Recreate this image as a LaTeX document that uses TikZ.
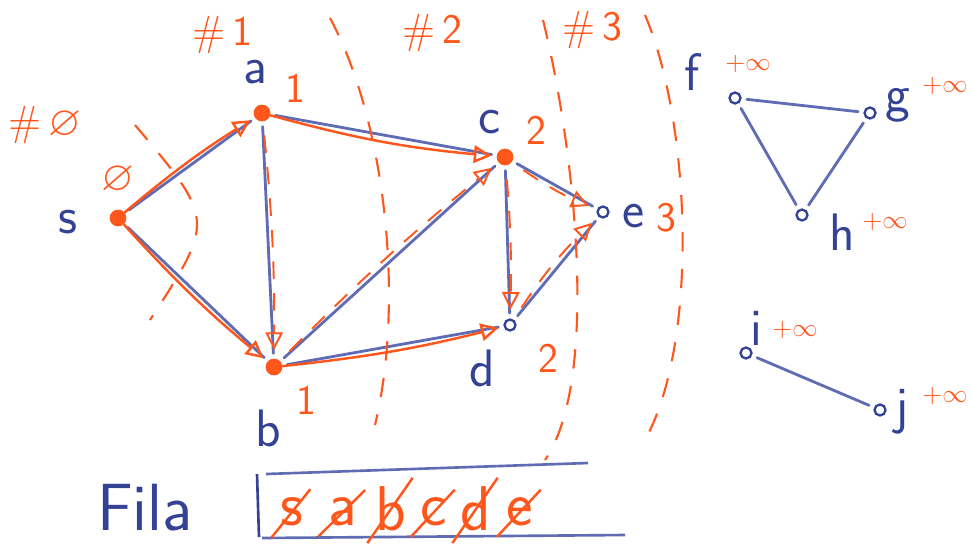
\documentclass[tikz,border=0pt]{standalone}
\usepackage{amssymb}
\usepackage{tikz}
\usetikzlibrary{arrows.meta,positioning,calc}
\definecolor{ink}{RGB}{52,66,150}
\definecolor{inklight}{RGB}{95,108,180}
\definecolor{penorange}{RGB}{255,86,28}

\begin{document}
\begin{tikzpicture}[x=0.02cm,y=-0.02cm,
 vis/.style={circle, fill=penorange, draw=penorange, minimum size=16*0.02cm, inner sep=0},
 unv/.style={circle, draw=ink, line width=1.3pt, minimum size=11*0.02cm, inner sep=0},
 lbl/.style={font=\sffamily\fontsize{30}{30}\selectfont, text=ink, inner sep=1pt},
 lvl/.style={font=\sffamily\fontsize{24}{24}\selectfont, text=penorange, inner sep=1pt},
 inf/.style={font=\sffamily\fontsize{15}{15}\selectfont, text=penorange, inner sep=1pt},
 edge/.style={inklight, line width=1.6pt, line cap=round, shorten <=3pt, shorten >=3pt},
 tree/.style={penorange, line width=1.4pt, -{Triangle[open, length=10pt, width=10pt]}, shorten >=3pt},
 back/.style={penorange, line width=1.1pt, dash pattern=on 10pt off 8pt, -{Triangle[open, length=10pt, width=10pt]}, shorten >=5pt, shorten <=8pt},
 frontier/.style={penorange, line width=1.2pt, dash pattern=on 11pt off 10pt},
 qlet/.style={font=\sffamily\fontsize{36}{36}\selectfont, text=penorange, inner sep=0pt},
 cross/.style={penorange, line width=1.4pt, shorten <=-8pt, shorten >=-6pt},
]
 \useasboundingbox (0,0) rectangle (972,545);
 %
 \node[vis] (s) at (118,218) {};
 \node[vis] (a) at (262,113) {};
 \node[vis] (b) at (274,367) {};
 \node[vis] (c) at (505,157) {};
 \node[unv] (d) at (510,325) {};
 \node[unv] (e) at (603,212) {};
 \node[unv] (f) at (735,98) {};
 \node[unv] (g) at (870,113) {};
 \node[unv] (h) at (802,215) {};
 \node[unv] (i) at (746,353) {};
 \node[unv] (j) at (880,410) {};
 %
 \node[lbl] (sl) at (68,222) {s};
 \node[lbl] (al) at (255,72) {a};
 \node[lbl] (bl) at (268,428) {b};
 \node[lbl] (cl) at (490,122) {c};
 \node[lbl] (dl) at (482,368) {d};
 \node[lbl] (el) at (634,216) {e};
 \node[lbl] (fl) at (692,72) {f};
 \node[lbl] (gl) at (898,105) {g};
 \node[lbl] (hl) at (842,232) {h};
 \node[lbl] (il) at (756,328) {i};
 \node[lbl] (jl) at (902,412) {j};
 %
 \draw[edge] (s) -- (a);
 \draw[edge] (s) -- (b);
 \draw[edge] (a) -- (b);
 \draw[edge] (a) -- (c);
 \draw[edge] (b) -- (c);
 \draw[edge] (b) -- (d);
 \draw[edge] (c) -- (d);
 \draw[edge] (c) -- (e);
 \draw[edge] (d) -- (e);
 \draw[edge] (f) -- (g);
 \draw[edge] (f) -- (h);
 \draw[edge] (g) -- (h);
 \draw[edge] (i) -- (j);
 %
 \draw[tree] (s) to[bend left=4] (a);
 \draw[tree] (s) to[bend right=4] (b);
 \draw[tree] (a) to[bend right=5] (c);
 \draw[tree] (b) to[bend right=4] (d);
 \draw[back] (a) to[bend left=3] (b);
 \draw[back] (b) to[bend left=3] (c);
 \draw[back] (c) to[bend left=3] (d);
 \draw[back] (c) to[bend right=6] (e);
 \draw[back] (d) to[bend left=6] (e);
 %
 \node[lvl] (d0) at (118,180) {$\varnothing$};
 \node[lvl] (da) at (295,88) {1};
 \node[lvl] (db) at (306,400) {1};
 \node[lvl] (dc) at (536,130) {2};
 \node[lvl] (dd) at (548,358) {2};
 \node[lvl] (de) at (666,218) {3};
 \node[inf] (df) at (748,64) {+$\infty$};
 \node[inf] (dg) at (945,86) {+$\infty$};
 \node[inf] (dh) at (885,222) {+$\infty$};
 \node[inf] (di) at (795,330) {+$\infty$};
 \node[inf] (dj) at (945,396) {+$\infty$};
 %
 \node[lvl] (l0) at (45,125) {\#\,$\varnothing$};
 \node[lvl] (l1) at (222,35) {\#\,1};
 \node[lvl] (l2) at (432,33) {\#\,2};
 \node[lvl] (l3) at (592,30) {\#\,3};
 \draw[frontier] (135,125) .. controls (215,220) .. (150,320);
 \draw[frontier] (330,18) .. controls (385,120) and (405,300) .. (375,425);
 \draw[frontier] (543,20) .. controls (575,150) and (600,380) .. (545,460);
 \draw[frontier] (645,15) .. controls (690,120) and (700,340) .. (645,440);
 %
 \node[lbl, font=\sffamily\fontsize{38}{38}\selectfont] (fila) at (145,508) {Fila};
 \draw[ink, line width=1.5pt] (257,474) -- (259,537);
 \draw[inklight, line width=1.5pt] (266,474) -- (588,463);
 \draw[inklight, line width=1.5pt] (262,538) -- (625,535);
 \node[qlet] (q1) at (292,512) {s};
 \node[qlet] (q2) at (343,512) {a};
 \node[qlet] (q3) at (391,509) {b};
 \node[qlet] (q4) at (434,512) {c};
 \node[qlet] (q5) at (476,509) {d};
 \node[qlet] (q6) at (520,512) {e};
 \foreach \q in {q1,q2,q3,q4,q5,q6}{\draw[cross] (\q.south west) -- (\q.north east);}
\end{tikzpicture}
\end{document}
